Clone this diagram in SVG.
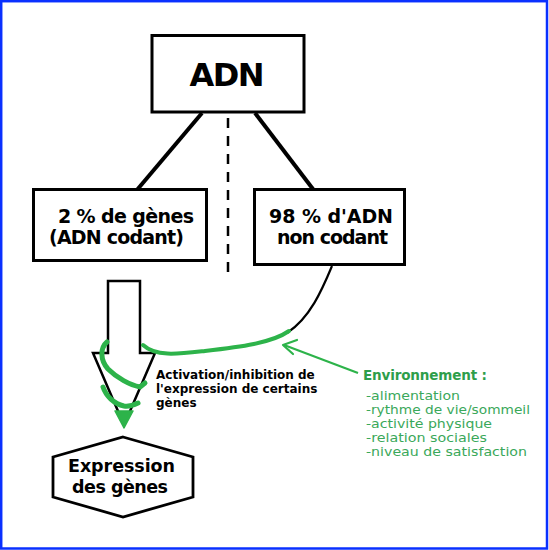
<svg xmlns="http://www.w3.org/2000/svg" width="549" height="550" viewBox="0 0 549 550">
<style>
.box{fill:#fff;stroke:#000;stroke-width:3}
.b{font-family:"DejaVu Sans",Verdana,sans-serif;font-weight:bold;fill:#000}
.g{stroke:#2db34a;fill:none;stroke-linecap:round;stroke-linejoin:round}
.env{font-family:"DejaVu Sans",Verdana,sans-serif;fill:#3aa85a;font-size:12.3px}
</style>
<rect x="0" y="0" width="549" height="550" fill="#fff"/>
<rect x="1.2" y="1.2" width="545.8" height="547.3" fill="none" stroke="#0a30ff" stroke-width="2.5"/>

<g id="connectors">
  <line x1="202" y1="113" x2="131" y2="197" stroke="#000" stroke-width="4"/>
  <line x1="255" y1="113" x2="319" y2="197" stroke="#000" stroke-width="4"/>
  <line x1="228" y1="118" x2="228" y2="273" stroke="#000" stroke-width="2.5" stroke-dasharray="10,8"/>
  <path d="M332,266 C322,290 310,318 287,333" fill="none" stroke="#000" stroke-width="2.2"/>
</g>

<g id="adn">
  <rect class="box" x="152" y="35.5" width="152" height="76.5" stroke-width="4"/>
  <text class="b" x="227" y="86" font-size="32" text-anchor="middle" textLength="75">ADN</text>
</g>

<g id="genes">
  <rect class="box" x="33.5" y="189.5" width="173" height="71" stroke-width="2.8"/>
  <text class="b" x="126" y="223" font-size="19" text-anchor="middle" textLength="136">2 % de gènes</text>
  <text class="b" x="116.5" y="244" font-size="19" text-anchor="middle" textLength="135">(ADN codant)</text>
</g>

<g id="noncodant">
  <rect class="box" x="254.5" y="189.5" width="150" height="75" stroke-width="2.8"/>
  <text class="b" x="331" y="223" font-size="19" text-anchor="middle" textLength="124">98 % d'ADN</text>
  <text class="b" x="332.5" y="244" font-size="19" text-anchor="middle" textLength="111">non codant</text>
</g>

<g id="fleche">
  <polygon points="108,281 140,281 140,353 155,353 124,425 93,353 108,353" fill="#fff" stroke="#000" stroke-width="2.5" stroke-linejoin="miter"/>
</g>

<g id="spirale">
  <path class="g" stroke-width="4" d="M289,331 C272,343 240,347 205,351 C178,354 156,357 143,345"/>
  <path class="g" stroke-width="5" d="M107,342 C100,348 100,360 108,369 C117,378 130,385 140,387 L145,383"/>
  <path class="g" stroke-width="5" d="M103,387 C106,396 114,404 124,406 C130,407 134,405 138,403"/>
  <polygon points="115,411 133,411 124,428" fill="#2db34a" stroke="#2db34a" stroke-width="1.5" stroke-linejoin="round"/>
</g>

<g id="label-activation">
  <text class="b" font-size="12" x="156" y="379">Activation/inhibition de</text>
  <text class="b" font-size="12" x="156" y="393">l'expression de certains</text>
  <text class="b" font-size="12" x="156" y="407">gènes</text>
</g>

<g id="expression">
  <polygon points="123,437 193,457 193,497 123,517 53,497 53,457" fill="#fff" stroke="#000" stroke-width="2.8"/>
  <text class="b" x="121.5" y="472" font-size="17.5" text-anchor="middle" textLength="107">Expression</text>
  <text class="b" x="120" y="493" font-size="17.5" text-anchor="middle" textLength="96">des gènes</text>
</g>

<g id="environnement">
  <line x1="358" y1="373" x2="284" y2="345" stroke="#2db34a" stroke-width="2.2"/>
  <path d="M297,340 L283,345 L293,354" fill="none" stroke="#2db34a" stroke-width="2.2" stroke-linecap="round" stroke-linejoin="round"/>
  <text x="363" y="380" font-family="DejaVu Sans,Verdana,sans-serif" font-size="13.5" font-weight="bold" fill="#2e9e4a" textLength="124">Environnement :</text>
  <text class="env" x="366" y="400" textLength="94" lengthAdjust="spacingAndGlyphs">-alimentation</text>
  <text class="env" x="366" y="414" textLength="164" lengthAdjust="spacingAndGlyphs">-rythme de vie/sommeil</text>
  <text class="env" x="366" y="428" textLength="126" lengthAdjust="spacingAndGlyphs">-activité physique</text>
  <text class="env" x="366" y="442" textLength="121" lengthAdjust="spacingAndGlyphs">-relation sociales</text>
  <text class="env" x="366" y="456" textLength="161" lengthAdjust="spacingAndGlyphs">-niveau de satisfaction</text>
</g>
</svg>
